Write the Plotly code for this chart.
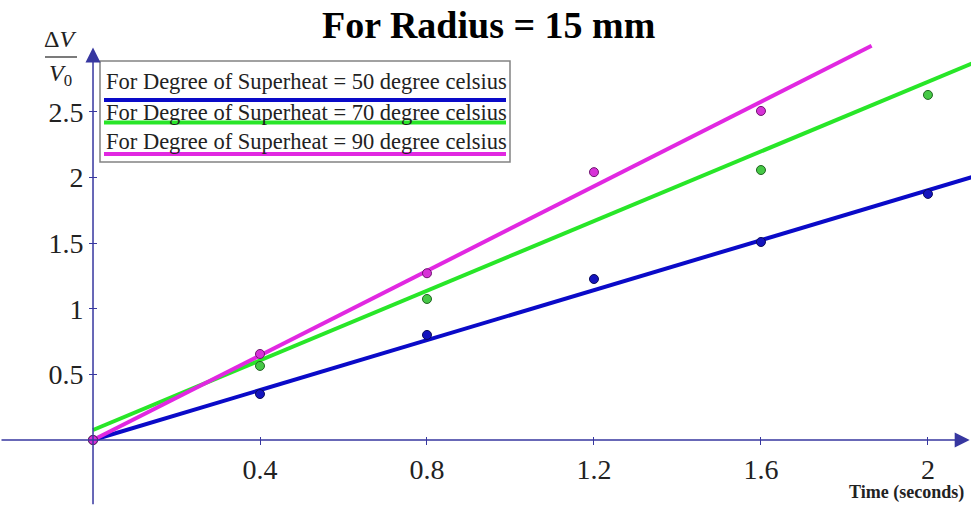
import plotly.graph_objects as go

# ---- data ----
time_50 = [0, 0.4, 0.8, 1.2, 1.6, 2.0]
dv_50 = [0, 0.35, 0.80, 1.226, 1.508, 1.874]
time_70 = [0, 0.4, 0.8, 1.6, 2.0]
dv_70 = [0, 0.564, 1.074, 2.056, 2.628]
time_90 = [0, 0.4, 0.8, 1.2, 1.6]
dv_90 = [0, 0.655, 1.27, 2.04, 2.506]

fit_slope = [0.951, 1.326, 1.61]
fit_intercept = [0.0, 0.076, 0.0]
fit_x_end = [2.12, 2.12, 1.865]

series_names = [
    "For Degree of Superheat = 50 degree celsius",
    "For Degree of Superheat = 70 degree celsius",
    "For Degree of Superheat = 90 degree celsius",
]
x_ticks = [0.4, 0.8, 1.2, 1.6, 2.0]
x_tick_labels = ["0.4", "0.8", "1.2", "1.6", "2"]
y_ticks = [0.5, 1.0, 1.5, 2.0, 2.5]
y_tick_labels = ["0.5", "1", "1.5", "2", "2.5"]

# ---- styles ----
line_colors = ["rgb(10,10,200)", "rgb(40,230,40)", "rgb(225,40,225)"]
marker_fill = ["rgb(20,20,190)", "rgb(70,200,70)", "rgb(215,50,215)"]
marker_edge = ["rgb(10,10,90)", "rgb(30,100,30)", "rgb(110,20,110)"]
axis_color = "rgb(55,55,160)"
SERIF = "Liberation Serif, Times New Roman, serif"

W, H = 971, 508
x_range = [-0.2228, 2.1031]
y_range = [-0.518, 3.351]
TICK_HALF = 4  # px: tick marks cross the axis line

fig = go.Figure()

pts = [(time_50, dv_50), (time_70, dv_70), (time_90, dv_90)]
for i in range(3):
    xs = [0, fit_x_end[i]]
    ys = [fit_intercept[i] + fit_slope[i] * x for x in xs]
    fig.add_trace(go.Scatter(x=xs, y=ys, mode="lines",
                             line=dict(color=line_colors[i], width=4),
                             hoverinfo="skip", showlegend=False))
for i in range(3):
    fig.add_trace(go.Scatter(x=pts[i][0], y=pts[i][1], mode="markers",
                             marker=dict(size=9, color=marker_fill[i],
                                         line=dict(color=marker_edge[i], width=1)),
                             name=series_names[i], showlegend=False))

# axis lines with arrows
fig.add_annotation(x=2.1, y=0, ax=x_range[0], ay=0, xref="x", yref="y",
                   axref="x", ayref="y", text="", showarrow=True,
                   arrowhead=2, arrowsize=2.0, arrowwidth=1.5, arrowcolor=axis_color)
fig.add_annotation(x=0, y=2.99, ax=0, ay=-0.5, xref="x", yref="y",
                   axref="x", ayref="y", text="", showarrow=True,
                   arrowhead=2, arrowsize=2.0, arrowwidth=1.5, arrowcolor=axis_color)

def px(x):
    return x / W

def py(y):
    return 1 - y / H

x_axis_pos = (0 - y_range[0]) / (y_range[1] - y_range[0]) + TICK_HALF / H
y_axis_pos = (0 - x_range[0]) / (x_range[1] - x_range[0]) + TICK_HALF / W

fig.update_layout(
    width=W, height=H,
    margin=dict(l=0, r=0, t=0, b=0),
    plot_bgcolor="white", paper_bgcolor="white",
    showlegend=False,
    xaxis=dict(range=x_range, anchor="free", position=x_axis_pos,
               showgrid=False, zeroline=False, showline=False,
               tickmode="array", tickvals=x_ticks, ticktext=x_tick_labels,
               ticks="outside", ticklen=2 * TICK_HALF, tickwidth=1.2, tickcolor=axis_color,
               tickfont=dict(family=SERIF, size=28, color="#222")),
    yaxis=dict(range=y_range, anchor="free", position=y_axis_pos,
               showgrid=False, zeroline=False, showline=False,
               tickmode="array", tickvals=y_ticks, ticktext=y_tick_labels,
               ticks="outside", ticklen=2 * TICK_HALF, tickwidth=1.2, tickcolor=axis_color,
               tickfont=dict(family=SERIF, size=28, color="#222")),
)

# title
fig.add_annotation(x=px(489), y=py(25), xref="paper", yref="paper",
                   text="<b>For Radius = 15 mm</b>", showarrow=False,
                   font=dict(family=SERIF, size=38, color="black"),
                   xanchor="center", yanchor="middle")

# y-axis label as a fraction
fig.add_annotation(x=px(60), y=py(39), xref="paper", yref="paper",
                   text="Δ<i>V</i>", showarrow=False,
                   font=dict(family=SERIF, size=24, color="#222"),
                   xanchor="center", yanchor="middle")
fig.add_shape(type="line", xref="paper", yref="paper",
              x0=px(45), x1=px(77), y0=py(57), y1=py(57),
              line=dict(color="#222", width=1.2))
fig.add_annotation(x=px(60), y=py(75), xref="paper", yref="paper",
                   text="<i>V</i><sub>0</sub>", showarrow=False,
                   font=dict(family=SERIF, size=24, color="#222"),
                   xanchor="center", yanchor="middle")

# x-axis title
fig.add_annotation(x=px(906), y=py(492), xref="paper", yref="paper",
                   text="<b>Time (seconds)</b>", showarrow=False,
                   font=dict(family=SERIF, size=18, color="#222"),
                   xanchor="center", yanchor="middle")

# custom legend box
fig.add_shape(type="rect", xref="paper", yref="paper",
              x0=px(100), x1=px(510), y0=py(61), y1=py(162),
              line=dict(color="rgb(130,130,130)", width=1.5), fillcolor="white")
text_y = [82, 112, 142]
bar_y = [100, 122.5, 154]
for i in range(3):
    fig.add_annotation(x=px(104), y=py(text_y[i]), xref="paper", yref="paper",
                       text=series_names[i], showarrow=False,
                       font=dict(family=SERIF, size=22.5, color="#222"),
                       xanchor="left", yanchor="middle")
    fig.add_shape(type="line", xref="paper", yref="paper",
                  x0=px(104), x1=px(506), y0=py(bar_y[i]), y1=py(bar_y[i]),
                  line=dict(color=line_colors[i], width=4))

fig.write_html("out.html")
